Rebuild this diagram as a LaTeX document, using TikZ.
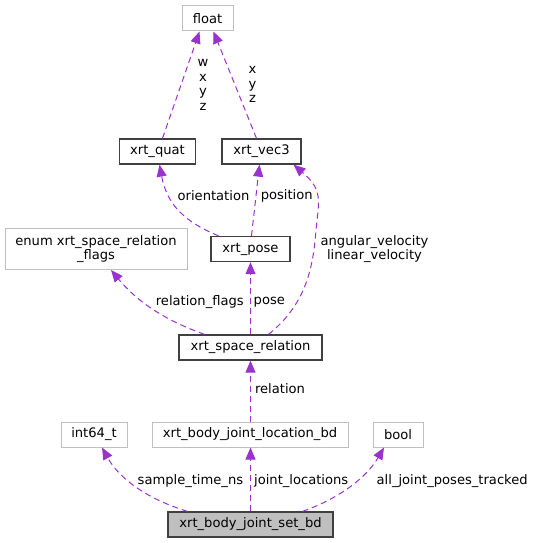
\documentclass[tikz,border=0pt]{standalone}
\usepackage{fontspec}
\setmainfont{DejaVu Sans}
\usetikzlibrary{arrows.meta}
\definecolor{edgecol}{HTML}{9A32CD}
\definecolor{boxdark}{HTML}{404040}
\definecolor{boxlight}{HTML}{BFBFBF}
\begin{document}
\begin{tikzpicture}[x=1pt,y=-1pt,
  lblfont/.style={font=\fontsize{13.1}{14.7}\selectfont},
  box/.style={draw=boxdark, line width=1.3pt, minimum height=25pt, inner sep=0pt, fill=white, lblfont},
  extbox/.style={box, draw=boxlight, line width=1pt},
  link/.style={draw=edgecol, line width=1pt, dash pattern=on 6pt off 4pt, -{Triangle[length=12pt,width=10pt,fill=edgecol]}},
  lbl/.style={lblfont, inner sep=0pt, align=center}]
\useasboundingbox (0,0) rectangle (537,543);
% nodes
\node[extbox, minimum width=51pt] (float) at (207.5,18.5) {float};
\node[box, minimum width=76pt] (quat) at (157.5,151.5) {xrt\_quat};
\node[box, minimum width=79pt] (vec3) at (261.5,151.5) {xrt\_vec3};
\node[extbox, minimum width=182pt, minimum height=41pt, align=center, font=\fontsize{13.1}{13.8}\selectfont] (enum) at (96,249) {enum xrt\_space\_relation\\\_flags};
\node[box, minimum width=79pt] (pose) at (250.5,249) {xrt\_pose};
\node[box, minimum width=143pt] (rel) at (250.5,347.5) {xrt\_space\_relation};
\node[extbox, minimum width=66pt] (int) at (94,434.5) {int64\_t};
\node[extbox, minimum width=196pt] (loc) at (250,434.5) {xrt\_body\_joint\_location\_bd};
\node[extbox, minimum width=50pt] (bool) at (398,434.5) {bool};
\node[box, fill=boxlight, minimum width=165pt] (set) at (250.5,524.5) {xrt\_body\_joint\_set\_bd};
% edges
\draw[link] ([xshift=5pt]quat.north) -- ([xshift=-8pt]float.south);
\draw[link] ([xshift=-5pt]vec3.north) -- ([xshift=6pt]float.south);
\draw[link] ([xshift=-32pt]pose.north) .. controls (185,222) and (167,205) .. ([xshift=2pt]quat.south);
\draw[link] ([xshift=1pt]pose.north) -- ([xshift=-2pt]vec3.south);
\draw[link] ([xshift=18pt]rel.north) .. controls (305,305) and (313,270) .. (316,230) .. controls (319,200) and (323,190) .. ([xshift=32pt]vec3.south);
\draw[link] ([xshift=-46pt]rel.north) .. controls (170,322) and (140,305) .. ([xshift=15pt]enum.south);
\draw[link] (rel.north) -- (pose.south);
\draw[link] ([xshift=0.5pt]loc.north) -- (rel.south);
\draw[link] ([xshift=-63pt]set.north) .. controls (150,500) and (120,480) .. ([xshift=8pt]int.south);
\draw[link] (set.north) -- ([xshift=0.5pt]loc.south);
\draw[link] ([xshift=52pt]set.north) .. controls (335,500) and (365,480) .. ([xshift=-14pt]bool.south);
% labels
\node[lbl] (lw) at (203,85) {w\\x\\y\\z};
\node[lbl] (lx) at (252.5,84.5) {x\\y\\z};
\node[lbl] (lor) at (213.5,196) {orientation};
\node[lbl] (lpos) at (286.7,196) {position};
\node[lbl] (lang) at (374.5,249) {angular\_velocity\\linear\_velocity};
\node[lbl] (lrf) at (199.8,302) {relation\_flags};
\node[lbl] (lpose) at (269.3,302) {pose};
\node[lbl] (lrel) at (280,388.5) {relation};
\node[lbl] (lst) at (190.4,481) {sample\_time\_ns};
\node[lbl] (ljl) at (301.2,481) {joint\_locations};
\node[lbl] (lall) at (452.2,481) {all\_joint\_poses\_tracked};
\end{tikzpicture}
\end{document}
